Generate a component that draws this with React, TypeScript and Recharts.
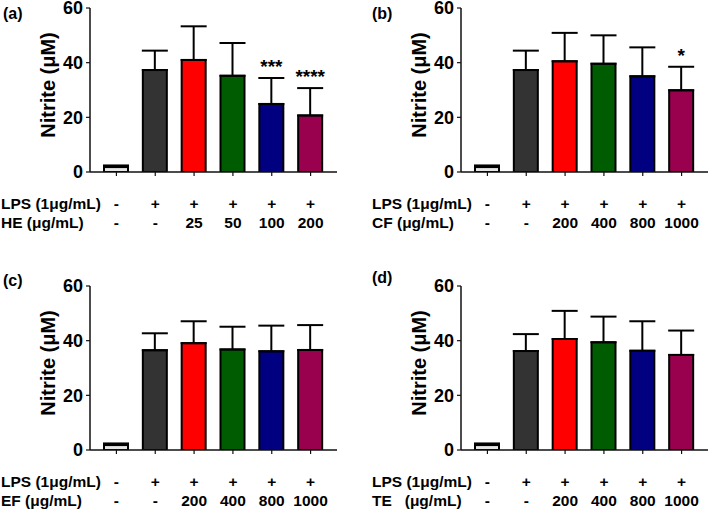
import React from 'react';
import { BarChart, Bar, XAxis, YAxis, ErrorBar, Cell, LabelList } from 'recharts';

const groups = ['Control', 'LPS', 'Dose 1', 'Dose 2', 'Dose 3', 'Dose 4'];
const lpsRow = ['-', '+', '+', '+', '+', '+'];
const heDoses = ['-', '-', '25', '50', '100', '200'];
const otherDoses = ['-', '-', '200', '400', '800', '1000'];
const yTicks = [0, 20, 40, 60];
const barColors = ['#e6e6e6', '#333333', '#ff0000', '#005c00', '#000080', '#99004d'];

const heMean = [1.8, 37.3, 41.0, 35.2, 24.9, 20.7];
const heErr = [0.6, 7.1, 12.3, 12.0, 9.5, 10.0];
const heSig = ['', '', '', '', '***', '****'];

const cfMean = [1.8, 37.3, 40.5, 39.6, 35.0, 29.9];
const cfErr = [0.6, 7.1, 10.4, 10.4, 10.6, 8.6];
const cfSig = ['', '', '', '', '', '*'];

const efMean = [1.8, 36.5, 39.1, 36.8, 36.1, 36.6];
const efErr = [0.6, 6.2, 8.0, 8.3, 9.4, 9.1];
const efSig = ['', '', '', '', '', ''];

const teMean = [1.8, 36.2, 40.6, 39.4, 36.3, 34.8];
const teErr = [0.6, 6.2, 10.3, 9.4, 10.8, 8.9];
const teSig = ['', '', '', '', '', ''];

const FONT = '"Liberation Sans", Arial, Helvetica, sans-serif';
const TOP_PAD = 12;

function YLabel(props: any) {
  const vb = props.viewBox || { x: 0, y: TOP_PAD, width: 90, height: 164 };
  const cx = vb.x + 48;
  const cy = vb.y + vb.height / 2 - 5;
  return (
    <text
      x={cx}
      y={cy}
      transform={`rotate(-90, ${cx}, ${cy})`}
      textAnchor="middle"
      dominantBaseline="central"
      fontFamily={FONT}
      fontWeight="bold"
      fontSize={20}
      fill="#000"
    >
      Nitrite (μM)
    </text>
  );
}

function XTick(props: any) {
  const { x, y, payload, doses, rowLabels } = props;
  const i = groups.indexOf(payload.value);
  const common = {
    fontFamily: FONT,
    fontWeight: 'bold' as const,
    fontSize: 15.5,
    fill: '#000',
    dominantBaseline: 'central' as const,
    style: { whiteSpace: 'pre' as const },
  };
  return (
    <g>
      {i === 0 && (
        <>
          <text x={1} y={y + 27} textAnchor="start" {...common}>{rowLabels[0]}</text>
          <text x={1} y={y + 46} textAnchor="start" {...common}>{rowLabels[1]}</text>
        </>
      )}
      <text x={x} y={y + 27} textAnchor="middle" {...common}>{lpsRow[i]}</text>
      <text x={x} y={y + 46} textAnchor="middle" {...common}>{doses[i]}</text>
    </g>
  );
}

function Panel(props: any) {
  const { mean, err, sig, doses, rowLabels, left, top, tag, tagLeft, tagTop } = props;
  const data = groups.map((g, i) => ({ group: g, mean: mean[i], err: [0, err[i]], sig: sig[i] }));
  const StarLabel = (p: any) => {
    const { x, y, width, height, index, value } = p;
    if (!value) return null;
    const m = mean[index];
    const pxPerUnit = height / m;
    const errTop = y - err[index] * pxPerUnit;
    return (
      <text
        x={x + width / 2}
        y={errTop - 5}
        textAnchor="middle"
        fontFamily={FONT}
        fontWeight="bold"
        fontSize={19}
        fill="#000"
      >
        {value}
      </text>
    );
  };
  return (
    <div style={{ position: 'absolute', left, top: top - (TOP_PAD - 8), width: 338, height: 250 + TOP_PAD - 8 }}>
      <div
        style={{
          position: 'absolute',
          left: tagLeft,
          top: tagTop + (TOP_PAD - 8),
          fontFamily: FONT,
          fontWeight: 'bold',
          fontSize: 16,
          lineHeight: '16px',
          color: '#000',
          zIndex: 2,
        }}
      >
        {tag}
      </div>
      <BarChart width={338} height={250 + TOP_PAD - 8} data={data} margin={{ top: TOP_PAD, right: 1, left: 0, bottom: 0 }}>
        <XAxis
          dataKey="group"
          type="category"
          height={78}
          padding={{ left: 7, right: 7 }}
          axisLine={{ stroke: '#111', strokeWidth: 1.5 }}
          tickLine={{ stroke: '#111', strokeWidth: 1.2 }}
          tickSize={4}
          tickMargin={0}
          interval={0}
          tick={<XTick doses={doses} rowLabels={rowLabels} />}
        />
        <YAxis
          width={90}
          domain={[0, 60]}
          ticks={yTicks}
          interval={0}
          allowDataOverflow
          axisLine={{ stroke: '#111', strokeWidth: 1.5 }}
          tickLine={{ stroke: '#111', strokeWidth: 1.2 }}
          tickSize={4}
          tickMargin={3}
          tick={{ fontFamily: FONT, fontWeight: 'bold', fontSize: 18, fill: '#000' }}
          label={<YLabel />}
        />
        <Bar dataKey="mean" barSize={24} stroke="#000" strokeWidth={2} isAnimationActive={false}>
          {data.map((d, i) => (
            <Cell key={d.group} fill={barColors[i]} />
          ))}
          <ErrorBar dataKey="err" width={13} strokeWidth={2} stroke="#000" direction="y" />
          <LabelList dataKey="sig" content={StarLabel} />
        </Bar>
      </BarChart>
    </div>
  );
}

export default function App() {
  return (
    <div style={{ position: 'absolute', left: 0, top: 0, width: 709, height: 510, background: '#fff', overflow: 'hidden' }}>
      <Panel mean={heMean} err={heErr} sig={heSig} doses={heDoses} rowLabels={['LPS (1μg/mL)', 'HE (μg/mL)']}
        left={0} top={0} tag="(a)" tagLeft={3} tagTop={6} />
      <Panel mean={cfMean} err={cfErr} sig={cfSig} doses={otherDoses} rowLabels={['LPS (1μg/mL)', 'CF (μg/mL)']}
        left={371} top={0} tag="(b)" tagLeft={1} tagTop={6} />
      <Panel mean={efMean} err={efErr} sig={efSig} doses={otherDoses} rowLabels={['LPS (1μg/mL)', 'EF (μg/mL)']}
        left={0} top={278} tag="(c)" tagLeft={3} tagTop={-5} />
      <Panel mean={teMean} err={teErr} sig={teSig} doses={otherDoses} rowLabels={['LPS (1μg/mL)', 'TE   (μg/mL)']}
        left={371} top={278} tag="(d)" tagLeft={1} tagTop={-8} />
    </div>
  );
}
